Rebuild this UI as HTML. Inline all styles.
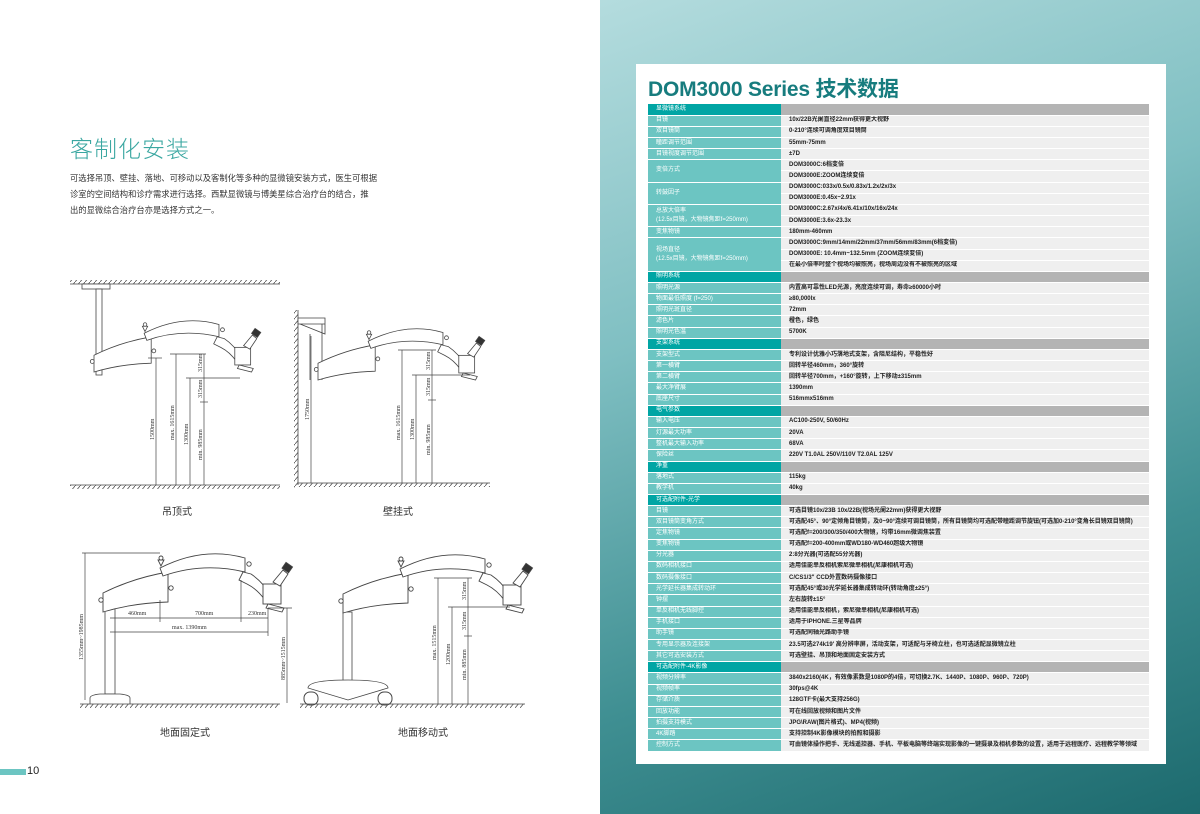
<!DOCTYPE html>
<html><head><meta charset="utf-8">
<style>
*{margin:0;padding:0;box-sizing:border-box}
body{width:1200px;height:814px;position:relative;overflow:hidden;background:#fff;font-family:"Liberation Sans","Noto Sans CJK SC",sans-serif}
.right{position:absolute;left:600px;top:0;width:600px;height:814px;background:linear-gradient(160deg,#b4dcde 0%,#7fbfc2 35%,#3f8f92 70%,#1d6a6e 100%)}
.card{position:absolute;left:636px;top:64px;width:530px;height:700px;background:#fff}
.title{position:absolute;left:648px;top:73px;font-size:21px;font-weight:bold;color:#177c7e;white-space:nowrap;letter-spacing:-0.2px}
table{position:absolute;left:648px;top:104px;width:501px;border-collapse:collapse;table-layout:fixed}
td{height:11.16px;font-size:6px;line-height:9px;padding:0 0 0 8px;border-bottom:1px solid #fff;white-space:nowrap;overflow:hidden;vertical-align:middle}
td.l{width:133px;background:#6cc5c2;color:#fff}
td.v{background:#efefef;color:#222;font-weight:bold}
tr.s td.l{background:#00a5a4}
tr.s td.v{background:#b4b4b4}
.h1{position:absolute;left:70px;top:130px;font-size:23px;color:#3aa7a1;letter-spacing:1px;font-family:"Noto Sans CJK SC",sans-serif;font-weight:300}
.p{position:absolute;left:70px;top:170px;font-size:8.3px;line-height:16px;color:#333;white-space:nowrap;font-family:"Noto Sans CJK SC",sans-serif}
.cap{position:absolute;font-size:10px;color:#333;font-family:"Noto Sans CJK SC",sans-serif}
</style></head><body>
<div class="right"></div>
<div class="card"></div>
<div class="title">DOM3000 Series <span style="font-family:'Noto Sans CJK SC',sans-serif">技术数据</span></div>

<div class="h1">客制化安装</div>
<div class="p">可选择吊顶、壁挂、落地、可移动以及客制化等多种的显微镜安装方式，医生可根据<br>诊室的空间结构和诊疗需求进行选择。西默显微镜与博美星综合治疗台的结合，推<br>出的显微综合治疗台亦是选择方式之一。</div>

<svg style="position:absolute;left:0;top:0" width="600" height="814" font-family="Liberation Serif" font-size="6">
<defs>
<pattern id="h" width="5" height="6" patternUnits="userSpaceOnUse"><path d="M0,6 L5,0" stroke="#555" stroke-width="0.8"/></pattern>
<g id="arm" fill="#fff" stroke="#444" stroke-width="0.9">
<path d="M0,0 L0,-19 Q30,-34 65,-40 L65,-10 Q30,-9 0,0 Z"/>
<circle cx="-2" cy="-12" r="2.2"/><circle cx="68" cy="-24" r="2.2"/>
<path d="M57,-44 Q100,-66 142,-54 L142,-40 Q100,-50 60,-36 Z"/>
<path d="M58,-46 l-3,-6 l6,0 Z"/><circle cx="58" cy="-54" r="2"/>
<circle cx="146" cy="-48" r="2.2"/>
<path d="M140,-40 l-4,8 l8,4 q10,5 18,16 l6,-4 q-8,-14 -20,-22 Z"/>
<rect x="160" y="-28" width="18" height="20"/>
<path d="M170,-30 l10,-12 l5,4 l-8,12 Z"/><rect x="180" y="-48" width="8" height="7" fill="#333" transform="rotate(35 184 -44)"/>
<path d="M165,-8 l16,4 l-2,4 l-16,-4 Z"/>
</g>
</defs>

<!-- 1 ceiling -->
<rect x="70" y="280" width="210" height="4" fill="url(#h)"/><line x1="70" y1="284" x2="280" y2="284" stroke="#444" stroke-width=".8"/>
<rect x="82" y="284" width="28" height="5" fill="#fff" stroke="#444" stroke-width=".8"/>
<rect x="96" y="289" width="6" height="86" fill="#fff" stroke="#444" stroke-width=".8"/>
<g transform="translate(94,372) scale(0.88)"><use href="#arm"/></g>
<rect x="70" y="485" width="210" height="4" fill="url(#h)"/><line x1="70" y1="485" x2="280" y2="485" stroke="#444" stroke-width=".8"/>
<g stroke="#444" stroke-width=".7">
<line x1="156" y1="358" x2="156" y2="485"/><line x1="148" y1="358" x2="162" y2="358"/>
<line x1="176" y1="354" x2="176" y2="485"/><line x1="170" y1="354" x2="206" y2="354"/>
<line x1="190" y1="378" x2="190" y2="485"/><line x1="186" y1="378" x2="240" y2="378"/>
<line x1="204" y1="354" x2="204" y2="485"/><line x1="200" y1="402" x2="208" y2="402"/>
</g>
<g fill="#333"><text transform="translate(154,440) rotate(-90)">1500mm</text><text transform="translate(174,440) rotate(-90)">max. 1615mm</text><text transform="translate(188,445) rotate(-90)">1300mm</text><text transform="translate(202,460) rotate(-90)">min. 985mm</text><text transform="translate(202,372) rotate(-90)">315mm</text><text transform="translate(202,398) rotate(-90)">315mm</text></g>

<!-- 2 wall -->
<rect x="294" y="310" width="4" height="178" fill="url(#h)"/><line x1="298" y1="310" x2="298" y2="485" stroke="#444" stroke-width=".8"/>
<path d="M298,318 h27 v6 h-27 Z M300,324 l25,0 l0,10 Z M322,324 v56 M310,334 v46" fill="#fff" stroke="#444" stroke-width=".8"/>
<g transform="translate(318,380) scale(0.88)"><use href="#arm"/></g>
<rect x="298" y="483" width="192" height="4" fill="url(#h)"/><line x1="298" y1="483" x2="490" y2="483" stroke="#444" stroke-width=".8"/>
<g stroke="#444" stroke-width=".7">
<line x1="311" y1="336" x2="311" y2="483"/>
<line x1="402" y1="350" x2="402" y2="483"/><line x1="398" y1="350" x2="436" y2="350"/>
<line x1="416" y1="375" x2="416" y2="483"/><line x1="412" y1="375" x2="470" y2="375"/>
<line x1="432" y1="350" x2="432" y2="483"/><line x1="428" y1="400" x2="436" y2="400"/>
</g>
<g fill="#333"><text transform="translate(309,420) rotate(-90)">1750mm</text><text transform="translate(400,440) rotate(-90)">max. 1615mm</text><text transform="translate(414,440) rotate(-90)">1300mm</text><text transform="translate(430,455) rotate(-90)">min. 985mm</text><text transform="translate(430,370) rotate(-90)">315mm</text><text transform="translate(430,396) rotate(-90)">315mm</text></g>

<!-- 3 floor fixed -->
<path d="M105,612 v82 h10 v-92" fill="#fff" stroke="#444" stroke-width=".8"/>
<path d="M90,704 v-6 q0,-3 10,-4 h20 q10,1 10,4 v6" fill="#fff" stroke="#444" stroke-width=".8"/>
<g transform="translate(103,612)"><use href="#arm"/></g>
<rect x="80" y="704" width="200" height="4" fill="url(#h)"/><line x1="80" y1="704" x2="280" y2="704" stroke="#444" stroke-width=".8"/>
<g stroke="#444" stroke-width=".7" fill="none">
<line x1="85" y1="553" x2="85" y2="700"/><line x1="82" y1="553" x2="160" y2="553"/>
<line x1="110" y1="618" x2="268" y2="618"/><line x1="110" y1="632" x2="268" y2="632"/>
<line x1="160" y1="600" x2="160" y2="622"/><line x1="241" y1="580" x2="241" y2="622"/><line x1="268" y1="608" x2="268" y2="636"/>
<line x1="287" y1="608" x2="287" y2="703"/><line x1="268" y1="608" x2="292" y2="608"/>
</g>
<g fill="#333"><text x="128" y="615">460mm</text><text x="195" y="615">700mm</text><text x="248" y="615">230mm</text><text x="172" y="629">max. 1390mm</text><text transform="translate(83,660) rotate(-90)">1355mm~1985mm</text><text transform="translate(285,680) rotate(-90)">885mm~1515mm</text></g>

<!-- 4 mobile -->
<rect x="343" y="612" width="9" height="70" fill="#fff" stroke="#444" stroke-width=".8"/>
<path d="M308,688 q0,-8 40,-8 q40,0 40,8 q-20,6 -40,12 q-20,-6 -40,-12 Z" fill="#fff" stroke="#444" stroke-width=".8"/>
<g fill="#fff" stroke="#444" stroke-width="1"><rect x="304" y="692" width="14" height="13" rx="6"/><rect x="378" y="692" width="14" height="13" rx="6"/></g>
<g transform="translate(343,613)"><use href="#arm"/></g>
<rect x="300" y="704" width="225" height="4" fill="url(#h)"/><line x1="300" y1="704" x2="525" y2="704" stroke="#444" stroke-width=".8"/>
<g stroke="#444" stroke-width=".7">
<line x1="438" y1="578" x2="438" y2="704"/><line x1="434" y1="578" x2="472" y2="578"/>
<line x1="452" y1="607" x2="452" y2="704"/><line x1="448" y1="607" x2="510" y2="607"/>
<line x1="468" y1="578" x2="468" y2="704"/><line x1="464" y1="636" x2="472" y2="636"/>
</g>
<g fill="#333"><text transform="translate(436,660) rotate(-90)">max. 1515mm</text><text transform="translate(450,665) rotate(-90)">1200mm</text><text transform="translate(466,680) rotate(-90)">min. 885mm</text><text transform="translate(466,600) rotate(-90)">315mm</text><text transform="translate(466,630) rotate(-90)">315mm</text></g>
</svg>
<div class="cap" style="left:162px;top:503px">吊顶式</div>
<div class="cap" style="left:383px;top:503px">壁挂式</div>
<div class="cap" style="left:160px;top:724px">地面固定式</div>
<div class="cap" style="left:398px;top:724px">地面移动式</div>

<div style="position:absolute;left:0;top:769px;width:26px;height:6px;background:#6cc5c2"></div>
<div style="position:absolute;left:27px;top:765px;font-size:11px;color:#222">10</div>

<table>
<tr class="s"><td class="l">显微镜系统</td><td class="v"></td></tr>
<tr><td class="l">目镜</td><td class="v">10x/22B光阑直径22mm获得更大视野</td></tr>
<tr><td class="l">双目镜筒</td><td class="v">0-210°连续可调角度双目镜筒</td></tr>
<tr><td class="l">瞳距调节范围</td><td class="v">55mm-75mm</td></tr>
<tr><td class="l">目镜视度调节范围</td><td class="v">±7D</td></tr>
<tr><td class="l" rowspan="2">变倍方式</td><td class="v">DOM3000C:6档变倍</td></tr>
<tr><td class="v">DOM3000E:ZOOM连续变倍</td></tr>
<tr><td class="l" rowspan="2">转鼓因子</td><td class="v">DOM3000C:033x/0.5x/0.83x/1.2x/2x/3x</td></tr>
<tr><td class="v">DOM3000E:0.45x~2.91x</td></tr>
<tr><td class="l" rowspan="2">总放大倍率<br>(12.5x目镜，大物镜焦距f=250mm)</td><td class="v">DOM3000C:2.67x/4x/6.41x/10x/16x/24x</td></tr>
<tr><td class="v">DOM3000E:3.6x-23.3x</td></tr>
<tr><td class="l">变焦物镜</td><td class="v">180mm-460mm</td></tr>
<tr><td class="l" rowspan="3">视场直径<br>(12.5x目镜，大物镜焦距f=250mm)</td><td class="v">DOM3000C:9mm/14mm/22mm/37mm/56mm/83mm(6档变倍)</td></tr>
<tr><td class="v">DOM3000E: 10.4mm~132.5mm (ZOOM连续变倍)</td></tr>
<tr><td class="v">在最小倍率时整个视场均被照亮，视场周边没有不被照亮的区域</td></tr>
<tr class="s"><td class="l">照明系统</td><td class="v"></td></tr>
<tr><td class="l">照明光源</td><td class="v">内置高可靠性LED光源，亮度连续可调，寿命≥60000小时</td></tr>
<tr><td class="l">物面最低照度 (f=250)</td><td class="v">≥80,000lx</td></tr>
<tr><td class="l">照明光斑直径</td><td class="v">72mm</td></tr>
<tr><td class="l">滤色片</td><td class="v">橙色，绿色</td></tr>
<tr><td class="l">照明光色温</td><td class="v">5700K</td></tr>
<tr class="s"><td class="l">支架系统</td><td class="v"></td></tr>
<tr><td class="l">支架型式</td><td class="v">专利设计优雅小巧落地式支架，含阻尼结构，平稳性好</td></tr>
<tr><td class="l">第一横臂</td><td class="v">回转半径460mm，360°旋转</td></tr>
<tr><td class="l">第二横臂</td><td class="v">回转半径700mm，+160°旋转，上下移动±315mm</td></tr>
<tr><td class="l">最大净臂展</td><td class="v">1390mm</td></tr>
<tr><td class="l">底座尺寸</td><td class="v">516mmx516mm</td></tr>
<tr class="s"><td class="l">电气参数</td><td class="v"></td></tr>
<tr><td class="l">输入电压</td><td class="v">AC100-250V, 50/60Hz</td></tr>
<tr><td class="l">灯源最大功率</td><td class="v">20VA</td></tr>
<tr><td class="l">整机最大输入功率</td><td class="v">68VA</td></tr>
<tr><td class="l">保险丝</td><td class="v">220V T1.0AL 250V/110V T2.0AL 125V</td></tr>
<tr class="s"><td class="l">净重</td><td class="v"></td></tr>
<tr><td class="l">落地式</td><td class="v">115kg</td></tr>
<tr><td class="l">教学机</td><td class="v">40kg</td></tr>
<tr class="s"><td class="l">可选配附件-光学</td><td class="v"></td></tr>
<tr><td class="l">目镜</td><td class="v">可选目镜10x/23B 10x/22B(视场光阑22mm)获得更大视野</td></tr>
<tr><td class="l">双目镜筒变角方式</td><td class="v">可选配45°、90°定倾角目镜筒，及0~90°连续可调目镜筒，所有目镜筒均可选配带瞳距调节旋钮(可选加0-210°变角长目镜双目镜筒)</td></tr>
<tr><td class="l">定焦物镜</td><td class="v">可选配f=200/300/350/400大物镜，均带16mm微调焦装置</td></tr>
<tr><td class="l">变焦物镜</td><td class="v">可选配f=200-400mm或WD180-WD460超级大物镜</td></tr>
<tr><td class="l">分光器</td><td class="v">2:8分光器(可选配55分光器)</td></tr>
<tr><td class="l">数码相机接口</td><td class="v">适用佳能单反相机索尼微单相机(尼康相机可选)</td></tr>
<tr><td class="l">数码摄像接口</td><td class="v">C/CS1/3" CCD外置数码摄像接口</td></tr>
<tr><td class="l">光学延长器集成转动环</td><td class="v">可选配45°或30光学延长器集成转动环(转动角度±25°)</td></tr>
<tr><td class="l">钟摆</td><td class="v">左右旋转±15°</td></tr>
<tr><td class="l">单反相机无线脚控</td><td class="v">适用佳能单反相机，索尼微单相机(尼康相机可选)</td></tr>
<tr><td class="l">手机接口</td><td class="v">适用于IPHONE.三星等品牌</td></tr>
<tr><td class="l">助手镜</td><td class="v">可选配同轴光路助手镜</td></tr>
<tr><td class="l">专用显示器及连接架</td><td class="v">23.5可选274k19' 高分辨率屏，活动支架，可适配与牙椅立柱，也可选适配显微镜立柱</td></tr>
<tr><td class="l">其它可选安装方式</td><td class="v">可选壁挂、吊顶和地面固定安装方式</td></tr>
<tr class="s"><td class="l">可选配附件-4K影像</td><td class="v"></td></tr>
<tr><td class="l">视频分辨率</td><td class="v">3840x2160(4K，有效像素数是1080P的4倍，可切换2.7K、1440P、1080P、960P、720P)</td></tr>
<tr><td class="l">视频帧率</td><td class="v">30fps@4K</td></tr>
<tr><td class="l">存储介质</td><td class="v">128GTF卡(最大支持256G)</td></tr>
<tr><td class="l">回放功能</td><td class="v">可在线回放视频和图片文件</td></tr>
<tr><td class="l">拍摄支持模式</td><td class="v">JPG\RAW(图片格式)、MP4(视频)</td></tr>
<tr><td class="l">4K脚踏</td><td class="v">支持控制4K影像模块的拍照和摄影</td></tr>
<tr><td class="l">控制方式</td><td class="v">可由镜体操作把手、无线遥控器、手机、平板电脑等终端实现影像的一键摄录及相机参数的设置，适用于远程医疗、远程教学等领域</td></tr>
</table>
</body></html>
